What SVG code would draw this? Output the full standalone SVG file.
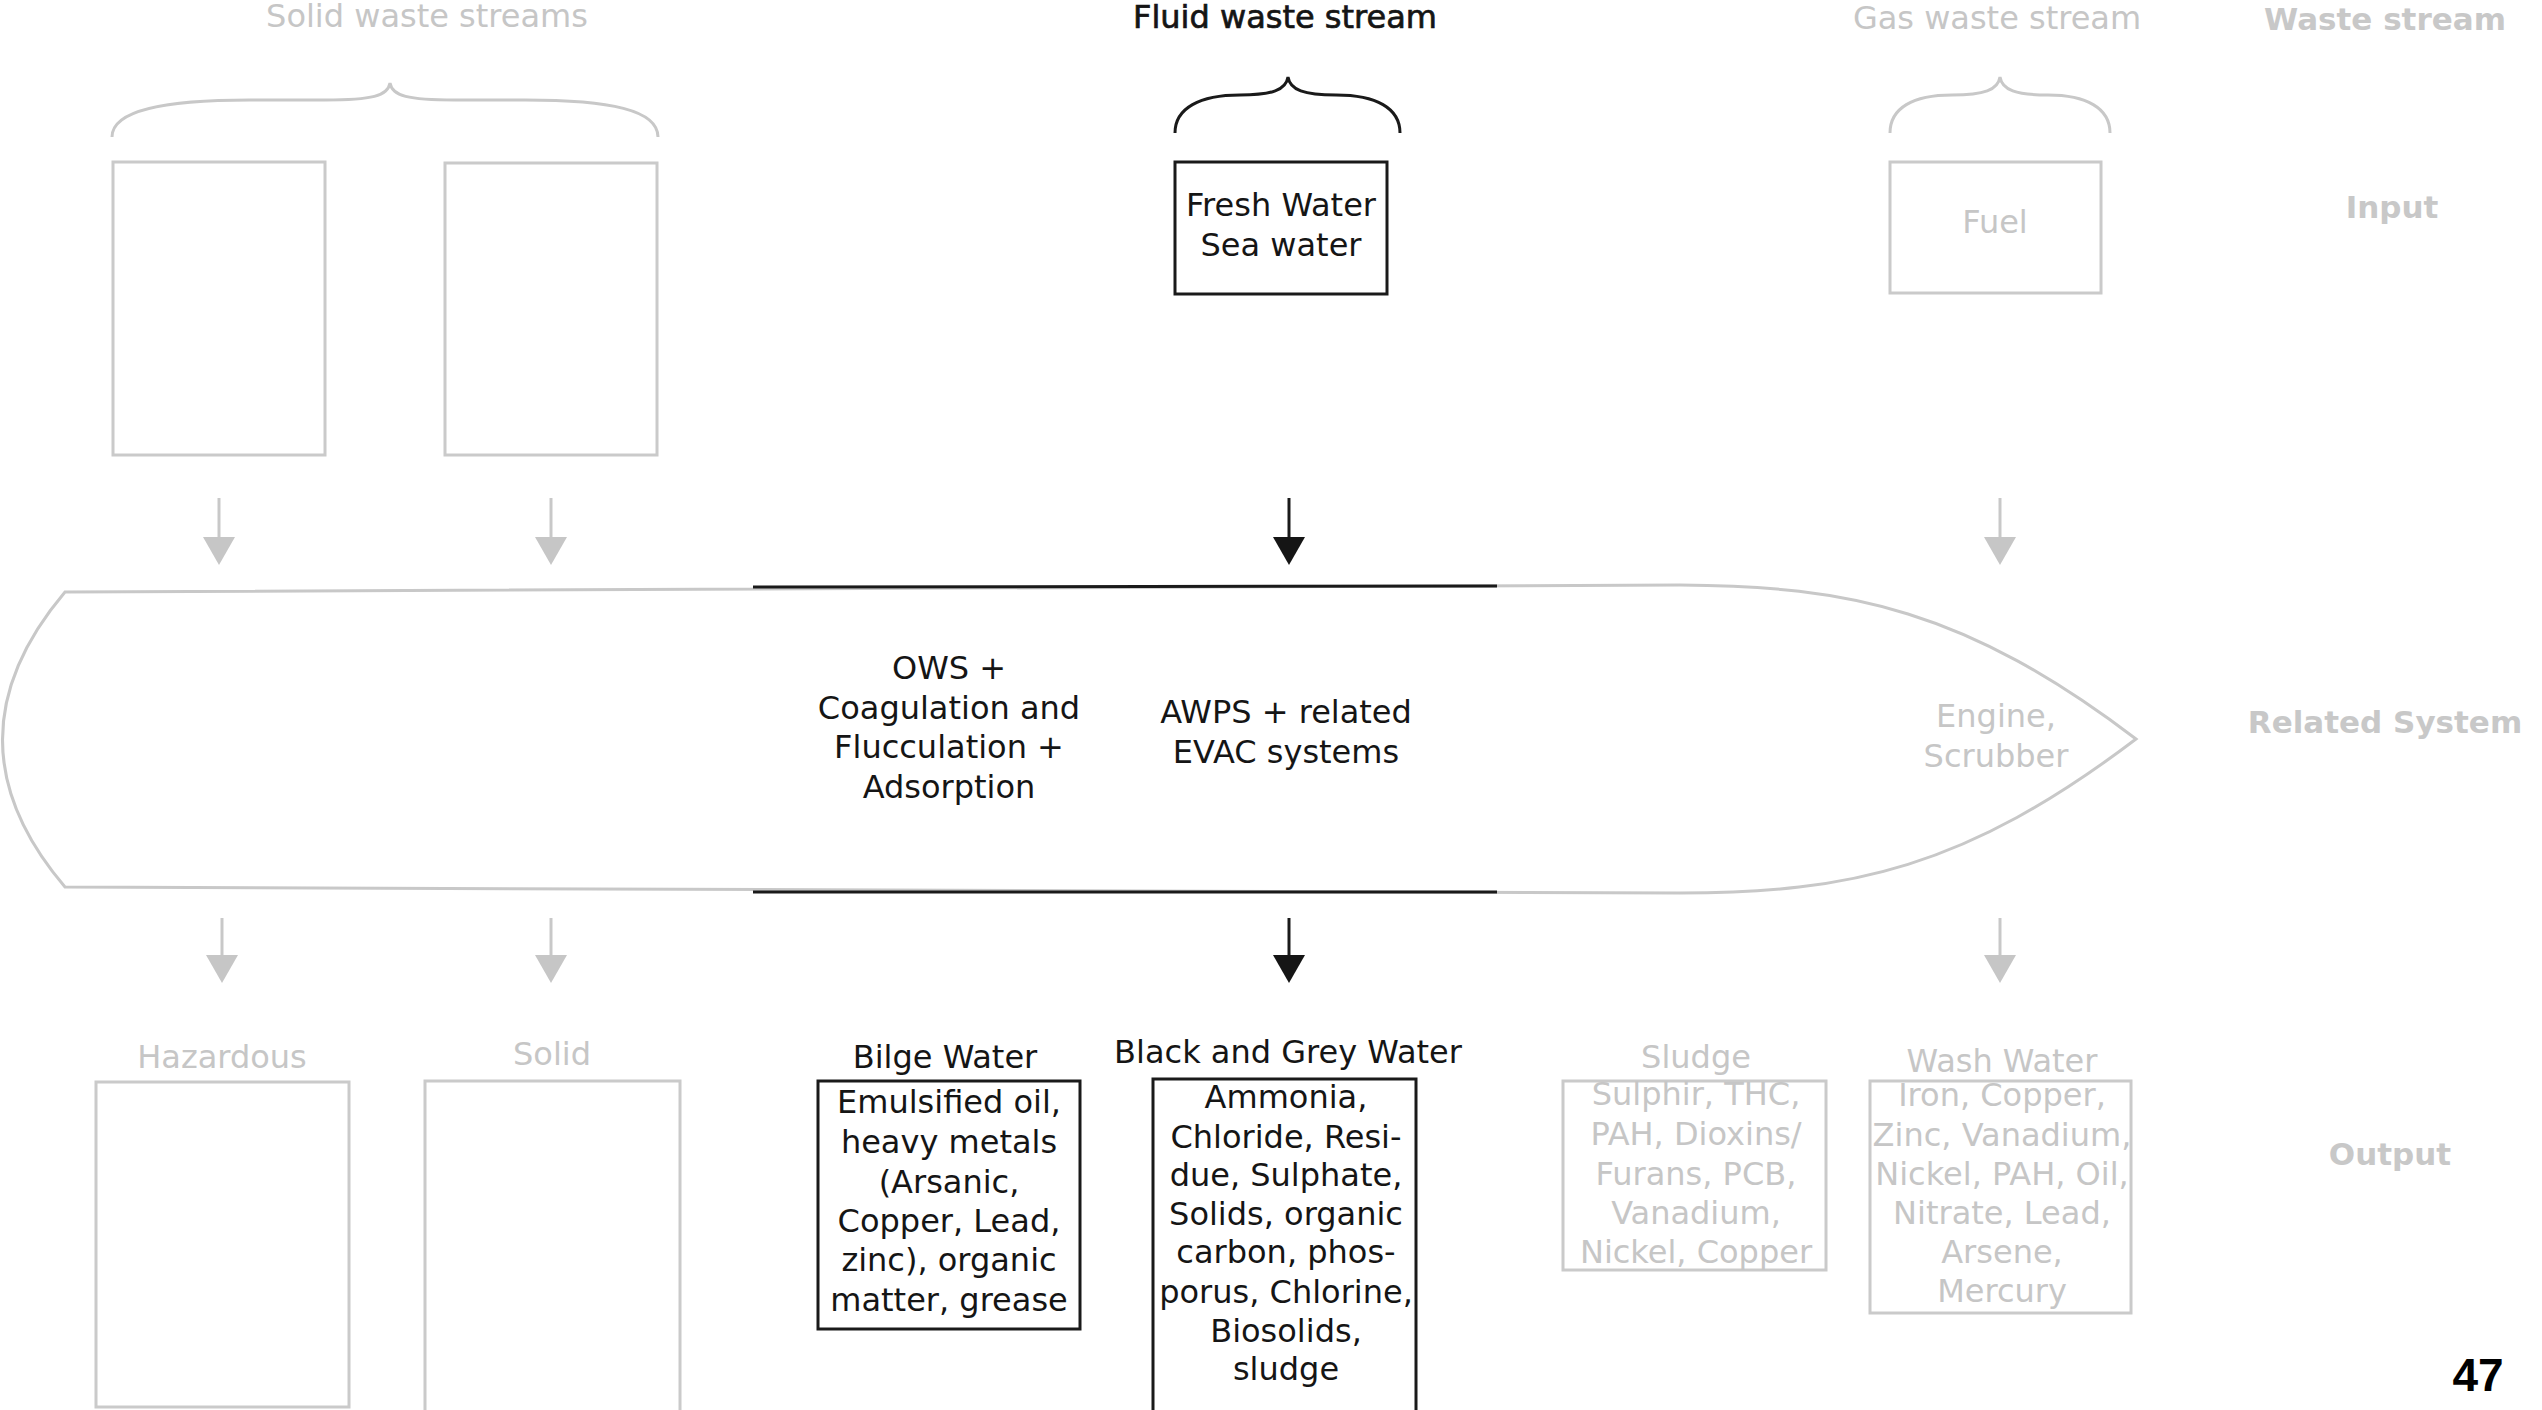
<svg xmlns="http://www.w3.org/2000/svg" width="2542" height="1410" viewBox="0 0 2542 1410">
<style>
.t{font-family:"DejaVu Sans","Liberation Sans",sans-serif;font-size:32px;text-anchor:middle}
.g{fill:#c6c6c6}
.k{fill:#151515}
.side{font-family:"DejaVu Sans","Liberation Sans",sans-serif;font-size:31px;font-weight:bold;text-anchor:middle;fill:#c8c8c8}
.gbox{fill:none;stroke:#cacaca;stroke-width:3}
.kbox{fill:none;stroke:#1a1a1a;stroke-width:3}
.gline{fill:none;stroke:#c8c8c8;stroke-width:3}
.kline{fill:none;stroke:#1a1a1a;stroke-width:3}
</style>
<defs>
<marker id="ag" markerUnits="userSpaceOnUse" markerWidth="28" markerHeight="32" viewBox="0 0 28 32" refX="3" refY="16" orient="auto">
<path d="M0,0 L28,16 L0,32 Z" fill="#c6c6c6"/>
</marker>
<marker id="ak" markerUnits="userSpaceOnUse" markerWidth="28" markerHeight="32" viewBox="0 0 28 32" refX="3" refY="16" orient="auto">
<path d="M0,0 L28,16 L0,32 Z" fill="#151515"/>
</marker>
</defs>
<rect width="2542" height="1410" fill="#fff"/>

<g id="labels">
<text class="t g" x="427" y="27">Solid waste streams</text>
<text class="t k" x="1285" y="28" stroke="#151515" stroke-width="0.7">Fluid waste stream</text>
<text class="t g" x="1997" y="29">Gas waste stream</text>
<text class="side" x="2385" y="30">Waste stream</text>
<text class="side" x="2392" y="218">Input</text>
<text class="side" x="2385" y="733">Related System</text>
<text class="side" x="2390" y="1165">Output</text>
</g>

<g id="braces">
<path id="brace-solid" class="gline" d="M112,137 C112,110 165,100 250,100 L325,100 C372,100 388,96 390,83 C392,96 408,100 455,100 L525,100 C610,100 658,110 658,137"/>
<path id="brace-fluid" class="kline" d="M1175,133 C1175,108 1200,95 1240,95 C1272,95 1286,90 1288,77 C1290,90 1304,95 1336,95 C1376,95 1400,108 1400,133"/>
<path id="brace-gas" class="gline" d="M1890,133 C1890,108 1913,95 1952,95 C1984,95 1998,90 2000,77 C2002,90 2016,95 2048,95 C2086,95 2110,108 2110,133"/>
</g>

<g id="in-solid-1"><rect class="gbox" x="113" y="162" width="212" height="293"/></g>
<g id="in-solid-2"><rect class="gbox" x="445" y="163" width="212" height="292"/></g>
<g id="in-fresh-water">
<rect class="kbox" x="1175" y="162" width="212" height="132"/>
<text class="t k" x="1281" y="216">Fresh Water</text>
<text class="t k" x="1281" y="256">Sea water</text>
</g>
<g id="in-fuel">
<rect class="gbox" x="1890" y="162" width="211" height="131"/>
<text class="t g" x="1995" y="233">Fuel</text>
</g>

<g id="system">
<path class="gline" d="M65,592 L1680,585 C1850,586 1966,610 2136,739 C1966,868 1850,893 1680,893 L65,887 Q-60,740 65,592 Z"/>
<path class="kline" d="M753,587 L1497,586"/>
<path class="kline" d="M753,892 L1497,892"/>
<g id="sys-ows">
<text class="t k" x="949" y="679">OWS +</text>
<text class="t k" x="949" y="719">Coagulation and</text>
<text class="t k" x="949" y="758">Flucculation +</text>
<text class="t k" x="949" y="798">Adsorption</text>
</g>
<g id="sys-awps">
<text class="t k" x="1286" y="723">AWPS + related</text>
<text class="t k" x="1286" y="763">EVAC systems</text>
</g>
<g id="sys-engine">
<text class="t g" x="1996" y="727">Engine,</text>
<text class="t g" x="1996" y="767">Scrubber</text>
</g>
</g>

<g id="out-hazardous">
<text class="t g" x="222" y="1068">Hazardous</text>
<rect class="gbox" x="96" y="1082" width="253" height="325"/>
</g>
<g id="out-solid">
<text class="t g" x="552" y="1065">Solid</text>
<rect class="gbox" x="425" y="1081" width="255" height="334"/>
</g>
<g id="out-bilge">
<text class="t k" x="945" y="1068">Bilge Water</text>
<rect class="kbox" x="818" y="1081" width="262" height="248"/>
<text class="t k" x="949" y="1113">Emulsified oil,</text>
<text class="t k" x="949" y="1153">heavy metals</text>
<text class="t k" x="949" y="1193">(Arsanic,</text>
<text class="t k" x="949" y="1232">Copper, Lead,</text>
<text class="t k" x="949" y="1271">zinc), organic</text>
<text class="t k" x="949" y="1311">matter, grease</text>
</g>
<g id="out-blackgrey">
<text class="t k" x="1288" y="1063">Black and Grey Water</text>
<rect class="kbox" x="1153" y="1079" width="263" height="340"/>
<text class="t k" x="1286" y="1108">Ammonia,</text>
<text class="t k" x="1286" y="1148">Chloride, Resi-</text>
<text class="t k" x="1286" y="1186">due, Sulphate,</text>
<text class="t k" x="1286" y="1225">Solids, organic</text>
<text class="t k" x="1286" y="1263">carbon, phos-</text>
<text class="t k" x="1286" y="1303">porus, Chlorine,</text>
<text class="t k" x="1286" y="1342">Biosolids,</text>
<text class="t k" x="1286" y="1380">sludge</text>
</g>
<g id="out-sludge">
<text class="t g" x="1696" y="1068">Sludge</text>
<rect class="gbox" x="1563" y="1081" width="263" height="189"/>
<text class="t g" x="1696" y="1105">Sulphir, THC,</text>
<text class="t g" x="1696" y="1145">PAH, Dioxins/</text>
<text class="t g" x="1696" y="1185">Furans, PCB,</text>
<text class="t g" x="1696" y="1224">Vanadium,</text>
<text class="t g" x="1696" y="1263">Nickel, Copper</text>
</g>
<g id="out-wash">
<text class="t g" x="2002" y="1072">Wash Water</text>
<rect class="gbox" x="1870" y="1081" width="261" height="232"/>
<text class="t g" x="2002" y="1106">Iron, Copper,</text>
<text class="t g" x="2002" y="1146">Zinc, Vanadium,</text>
<text class="t g" x="2002" y="1185">Nickel, PAH, Oil,</text>
<text class="t g" x="2002" y="1224">Nitrate, Lead,</text>
<text class="t g" x="2002" y="1263">Arsene,</text>
<text class="t g" x="2002" y="1302">Mercury</text>
</g>

<g id="connectors">
<line class="gline" x1="219" y1="498" x2="219" y2="540" marker-end="url(#ag)"/>
<line class="gline" x1="551" y1="498" x2="551" y2="540" marker-end="url(#ag)"/>
<line class="kline" x1="1289" y1="498" x2="1289" y2="540" marker-end="url(#ak)"/>
<line class="gline" x1="2000" y1="498" x2="2000" y2="540" marker-end="url(#ag)"/>
<line class="gline" x1="222" y1="918" x2="222" y2="958" marker-end="url(#ag)"/>
<line class="gline" x1="551" y1="918" x2="551" y2="958" marker-end="url(#ag)"/>
<line class="kline" x1="1289" y1="918" x2="1289" y2="958" marker-end="url(#ak)"/>
<line class="gline" x1="2000" y1="918" x2="2000" y2="958" marker-end="url(#ag)"/>
</g>

<g id="page-number">
<text x="2478" y="1391" font-family="'Liberation Sans',Arial,sans-serif" font-size="46" font-weight="bold" text-anchor="middle" fill="#000">47</text>
</g>
</svg>
